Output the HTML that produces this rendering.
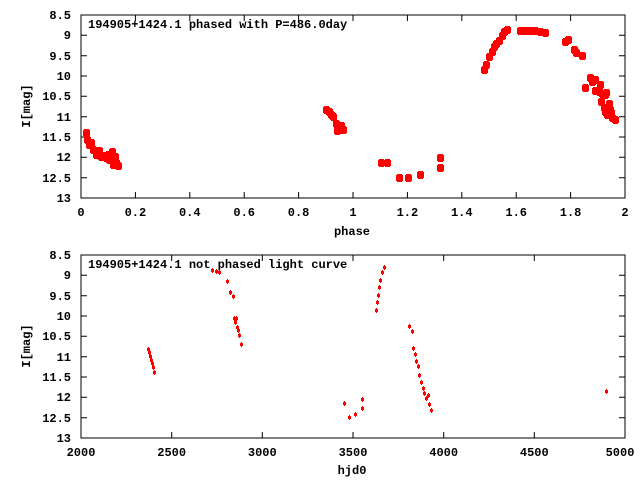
<!DOCTYPE html>
<html><head><meta charset="utf-8"><style>
body{margin:0;background:#fff}
svg text{font-family:"Liberation Mono","DejaVu Sans Mono",monospace;font-size:12px;font-weight:bold;fill:#000}
</style></head><body>
<svg width="640" height="480" xmlns="http://www.w3.org/2000/svg">
<rect width="640" height="480" fill="#fff"/>
<rect x="81" y="15" width="544" height="183" fill="none" stroke="#000" stroke-width="1"/>
<path stroke="#000" d="M81 35.3h6M81 55.7h6M81 76h6M81 96.3h6M81 116.7h6M81 137h6M81 157.3h6M81 177.7h6
M625 35.3h-6M625 55.7h-6M625 76h-6M625 96.3h-6M625 116.7h-6M625 137h-6M625 157.3h-6M625 177.7h-6
M135.4 198v-6M189.8 198v-6M244.2 198v-6M298.6 198v-6M353 198v-6M407.4 198v-6M461.8 198v-6M516.2 198v-6M570.6 198v-6
M135.4 15v6M189.8 15v6M244.2 15v6M298.6 15v6M353 15v6M407.4 15v6M461.8 15v6M516.2 15v6M570.6 15v6"/>
<g text-anchor="end">
<text x="71" y="19">8.5</text><text x="71" y="39">9</text><text x="71" y="60">9.5</text><text x="71" y="80">10</text><text x="71" y="100">10.5</text><text x="71" y="121">11</text><text x="71" y="141">11.5</text><text x="71" y="161">12</text><text x="71" y="182">12.5</text><text x="71" y="202">13</text>
</g>
<g text-anchor="middle">
<text x="81" y="216">0</text><text x="135.4" y="216">0.2</text><text x="189.8" y="216">0.4</text><text x="244.2" y="216">0.6</text><text x="298.6" y="216">0.8</text><text x="353" y="216">1</text><text x="407.4" y="216">1.2</text><text x="461.8" y="216">1.4</text><text x="516.2" y="216">1.6</text><text x="570.6" y="216">1.8</text><text x="625" y="216">2</text>
<text x="352" y="235">phase</text>
<text x="0" y="0" transform="translate(30,106) rotate(-90)">I[mag]</text>
</g>
<text x="88" y="28">194905+1424.1 phased with P=486.0day</text>
<g fill="#f00" id="gtop" shape-rendering="crispEdges"></g>
<rect x="81" y="255" width="544" height="183" fill="none" stroke="#000" stroke-width="1"/>
<path stroke="#000" d="M81 275.3h6M81 295.7h6M81 316h6M81 336.3h6M81 356.7h6M81 377h6M81 397.3h6M81 417.7h6
M625 275.3h-6M625 295.7h-6M625 316h-6M625 336.3h-6M625 356.7h-6M625 377h-6M625 397.3h-6M625 417.7h-6
M171.7 438v-6M262.3 438v-6M353 438v-6M443.7 438v-6M534.3 438v-6
M171.7 255v6M262.3 255v6M353 255v6M443.7 255v6M534.3 255v6"/>
<g text-anchor="end">
<text x="71" y="259">8.5</text><text x="71" y="279">9</text><text x="71" y="300">9.5</text><text x="71" y="320">10</text><text x="71" y="340">10.5</text><text x="71" y="361">11</text><text x="71" y="381">11.5</text><text x="71" y="401">12</text><text x="71" y="422">12.5</text><text x="71" y="442">13</text>
</g>
<g text-anchor="middle">
<text x="81" y="456">2000</text><text x="171.7" y="456">2500</text><text x="262.3" y="456">3000</text><text x="353" y="456">3500</text><text x="443.7" y="456">4000</text><text x="534.3" y="456">4500</text><text x="620" y="456">5000</text>
<text x="352" y="474">hjd0</text>
<text x="0" y="0" transform="translate(30,346) rotate(-90)">I[mag]</text>
</g>
<text x="88" y="268">194905+1424.1 not phased light curve</text>
<g fill="#f00" id="gbot" shape-rendering="crispEdges"></g>
</svg>
<script>
(function(){
var T=[[86,133],[87,140],[89,145],[91,143],[93,150],[96,155],[99,151],[101,157],[104,156],[106,158],[108,155],[109,160],[112,152],[113,165],[115,157],[116,163],[118,166],
[326,110],[329,112],[331,115],[333,117],[336,124],[338,128],[337,131],[341,126],[343,130],
[381,163],[387,163],[399,178],[408,178],[420,175],[440,158],[440,168],
[484,70],[486,65],[489,57],[492,52],[494,47],[496,44],[499,41],[502,36],[504,32],[507,30],
[520,31],[525,31],[530,31],[535,31],[540,32],[545,33],
[565,42],[568,40],[574,50],[576,53],[582,56],[585,88],[590,78],[592,82],[595,80],[600,85],[595,91],[599,92],[602,94],[605,95],[606,93],[601,102],[604,108],[605,112],[607,115],[610,110],[609,104],[612,118],[615,120],[611,113]];
var B=[[148,349],[149,352],[150,356],[151,360],[152,363],[153,367],[154,372],
[212,270],[216,271],[219,272],[227,281],[230,292],[233,296],[234,318],[235,322],[236,318],[237,327],[238,330],[239,335],[241,344],
[344,403],[349,417],[355,414],[362,399],[362,408],
[376,310],[377,302],[378,295],[379,287],[380,280],[382,272],[384,267],
[409,326],[412,331],[413,348],[415,354],[416,361],[418,366],[419,375],[421,382],[423,388],[424,393],[426,398],[428,395],[429,404],[431,410],
[606,391]];
var ns="http://www.w3.org/2000/svg";
function add(g,x,y,w,h){var r=document.createElementNS(ns,"rect");r.setAttribute("x",Math.round(x-w/2));r.setAttribute("y",Math.round(y-h/2));r.setAttribute("width",w);r.setAttribute("height",h);g.appendChild(r);}
var gt=document.getElementById("gtop"),gb=document.getElementById("gbot");
T.forEach(function(p){add(gt,p[0],p[1],7,6);add(gt,p[0],p[1],5,8);});
B.forEach(function(p){add(gb,p[0],p[1],3,3);add(gb,p[0],p[1],1,5);});
})();
</script>
</body></html>
